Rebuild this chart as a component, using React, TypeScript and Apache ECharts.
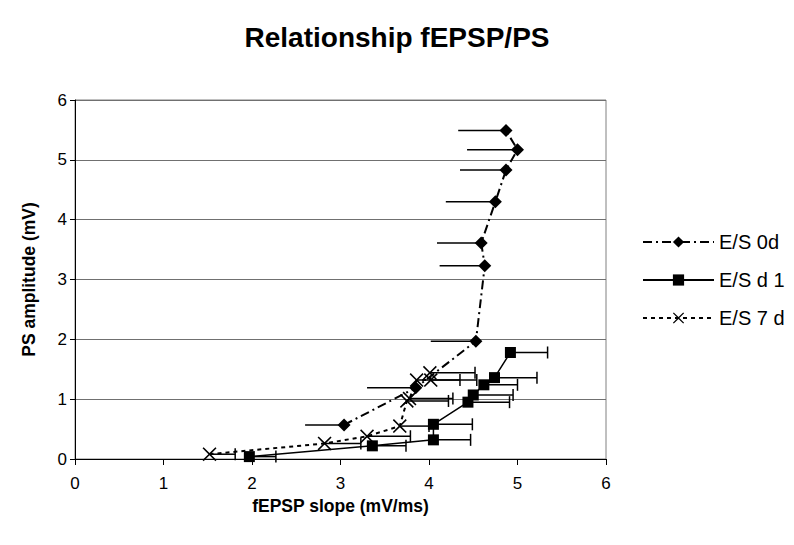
import React, { useEffect, useRef } from "react";
import * as echarts from "echarts";

const xTicks = [0, 1, 2, 3, 4, 5, 6];
const yTicks = [0, 1, 2, 3, 4, 5, 6];

// E/S 0d (diamond, minus error)
const s0x = [3.04, 3.85, 4.53, 4.63, 4.59, 4.75, 4.87, 5.0, 4.87];
const s0y = [0.57, 1.19, 1.97, 3.23, 3.61, 4.3, 4.83, 5.17, 5.49];
const s0err = [0.44, 0.55, 0.51, 0.51, 0.5, 0.56, 0.52, 0.57, 0.54];

// E/S d 1 (square, plus error)
const s1x = [1.97, 3.36, 4.05, 4.05, 4.44, 4.5, 4.62, 4.74, 4.92];
const s1y = [0.04, 0.22, 0.32, 0.58, 0.95, 1.07, 1.24, 1.36, 1.78];
const s1err = [0.3, 0.38, 0.42, 0.44, 0.47, 0.45, 0.38, 0.48, 0.42];

// E/S 7 d (cross, plus error)
const s7x = [1.52, 2.82, 3.3, 3.67, 3.75, 3.78, 3.86, 4.02, 4.01];
const s7y = [0.08, 0.26, 0.38, 0.55, 0.97, 1.01, 1.32, 1.32, 1.44];
const s7err = [0.29, 0.41, 0.49, 0.33, 0.47, 0.49, 0.49, 0.52, 0.51];

const names = ["E/S 0d", "E/S d 1", "E/S 7 d"];

const FONT = "'Liberation Sans', Arial, sans-serif";
const crossPath =
  "path://M0,8L8,0L50,42L92,0L100,8L58,50L100,92L92,100L50,58L8,100L0,92L42,50Z";

function errSeries(xs: number[], ys: number[], es: number[], dir: number, cap: boolean) {
  return {
    type: "custom",
    silent: true,
    z: 1,
    data: xs.map((x, i) => [x, ys[i], x + dir * es[i]]),
    encode: { x: [0, 2], y: 1 },
    renderItem: (params: any, api: any) => {
      const x = api.value(0);
      const y = api.value(1);
      const xe = api.value(2);
      const p0 = api.coord([x, y]);
      const p1 = api.coord([xe, y]);
      const children: any[] = [
        {
          type: "line",
          shape: { x1: p0[0], y1: p0[1], x2: p1[0], y2: p1[1] },
          style: { stroke: "#000", lineWidth: 1.5 },
        },
      ];
      if (cap) {
        children.push({
          type: "line",
          shape: { x1: p1[0], y1: p1[1] - 6, x2: p1[0], y2: p1[1] + 6 },
          style: { stroke: "#000", lineWidth: 1.5 },
        });
      }
      return { type: "group", children };
    },
  };
}

export default function App() {
  const ref = useRef<HTMLDivElement>(null);
  useEffect(() => {
    if (!ref.current) return;
    const chart = echarts.init(ref.current, undefined, { renderer: "svg" });
    chart.setOption({
      animation: false,
      backgroundColor: "#fff",
      textStyle: { fontFamily: FONT, color: "#000" },
      title: {
        text: "Relationship fEPSP/PS",
        left: "center",
        top: 18,
        textStyle: { fontFamily: FONT, fontSize: 28, fontWeight: "bold", color: "#000" },
      },
      legend: {
        orient: "vertical",
        left: 642,
        top: 232,
        padding: 0,
        itemWidth: 71,
        itemHeight: 14,
        itemGap: 18,
        data: names,
        textStyle: { fontFamily: FONT, fontSize: 20, lineHeight: 20, color: "#000" },
      },
      grid: {
        left: 75,
        right: 188,
        top: 100,
        bottom: 86,
        show: true,
        borderColor: "#808080",
        borderWidth: 1,
        backgroundColor: "#fff",
      },
      xAxis: {
        type: "value",
        min: xTicks[0],
        max: xTicks[xTicks.length - 1],
        interval: 1,
        name: "fEPSP slope (mV/ms)",
        nameLocation: "middle",
        nameGap: 32,
        nameTextStyle: { fontFamily: FONT, fontSize: 17.5, fontWeight: "bold", color: "#000" },
        axisLine: { show: true, lineStyle: { color: "#000", width: 1 } },
        axisTick: { show: true, inside: false, length: 6, lineStyle: { color: "#000" } },
        axisLabel: { fontFamily: FONT, fontSize: 17, color: "#000", margin: 16 },
        splitLine: { show: false },
      },
      yAxis: {
        type: "value",
        min: yTicks[0],
        max: yTicks[yTicks.length - 1],
        interval: 1,
        name: "PS amplitude (mV)",
        nameLocation: "middle",
        nameGap: 37,
        nameTextStyle: { fontFamily: FONT, fontSize: 17.5, fontWeight: "bold", color: "#000" },
        axisLine: { show: true, lineStyle: { color: "#000", width: 1 } },
        axisTick: { show: true, inside: false, length: 5, lineStyle: { color: "#000" } },
        axisLabel: { fontFamily: FONT, fontSize: 17, color: "#000", margin: 8 },
        splitLine: { show: true, lineStyle: { color: "#707070", width: 1 } },
      },
      series: [
        errSeries(s0x, s0y, s0err, -1, false),
        errSeries(s1x, s1y, s1err, 1, true),
        errSeries(s7x, s7y, s7err, 1, true),
        {
          name: names[0],
          type: "line",
          z: 3,
          data: s0x.map((x, i) => [x, s0y[i]]),
          symbol: "diamond",
          symbolSize: 13,
          itemStyle: { color: "#000" },
          lineStyle: { color: "#000", width: 2, type: [9, 4, 2, 4] },
        },
        {
          name: names[1],
          type: "line",
          z: 3,
          data: s1x.map((x, i) => [x, s1y[i]]),
          symbol: "rect",
          symbolSize: 11,
          itemStyle: { color: "#000" },
          lineStyle: { color: "#000", width: 1.5, type: "solid" },
        },
        {
          name: names[2],
          type: "line",
          z: 3,
          data: s7x.map((x, i) => [x, s7y[i]]),
          symbol: crossPath,
          symbolSize: 14,
          itemStyle: { color: "#000" },
          lineStyle: { color: "#000", width: 2, type: [4, 4] },
        },
      ],
    });
    return () => chart.dispose();
  }, []);
  return <div ref={ref} style={{ width: 794, height: 545, position: "absolute", left: 0, top: 0 }} />;
}
